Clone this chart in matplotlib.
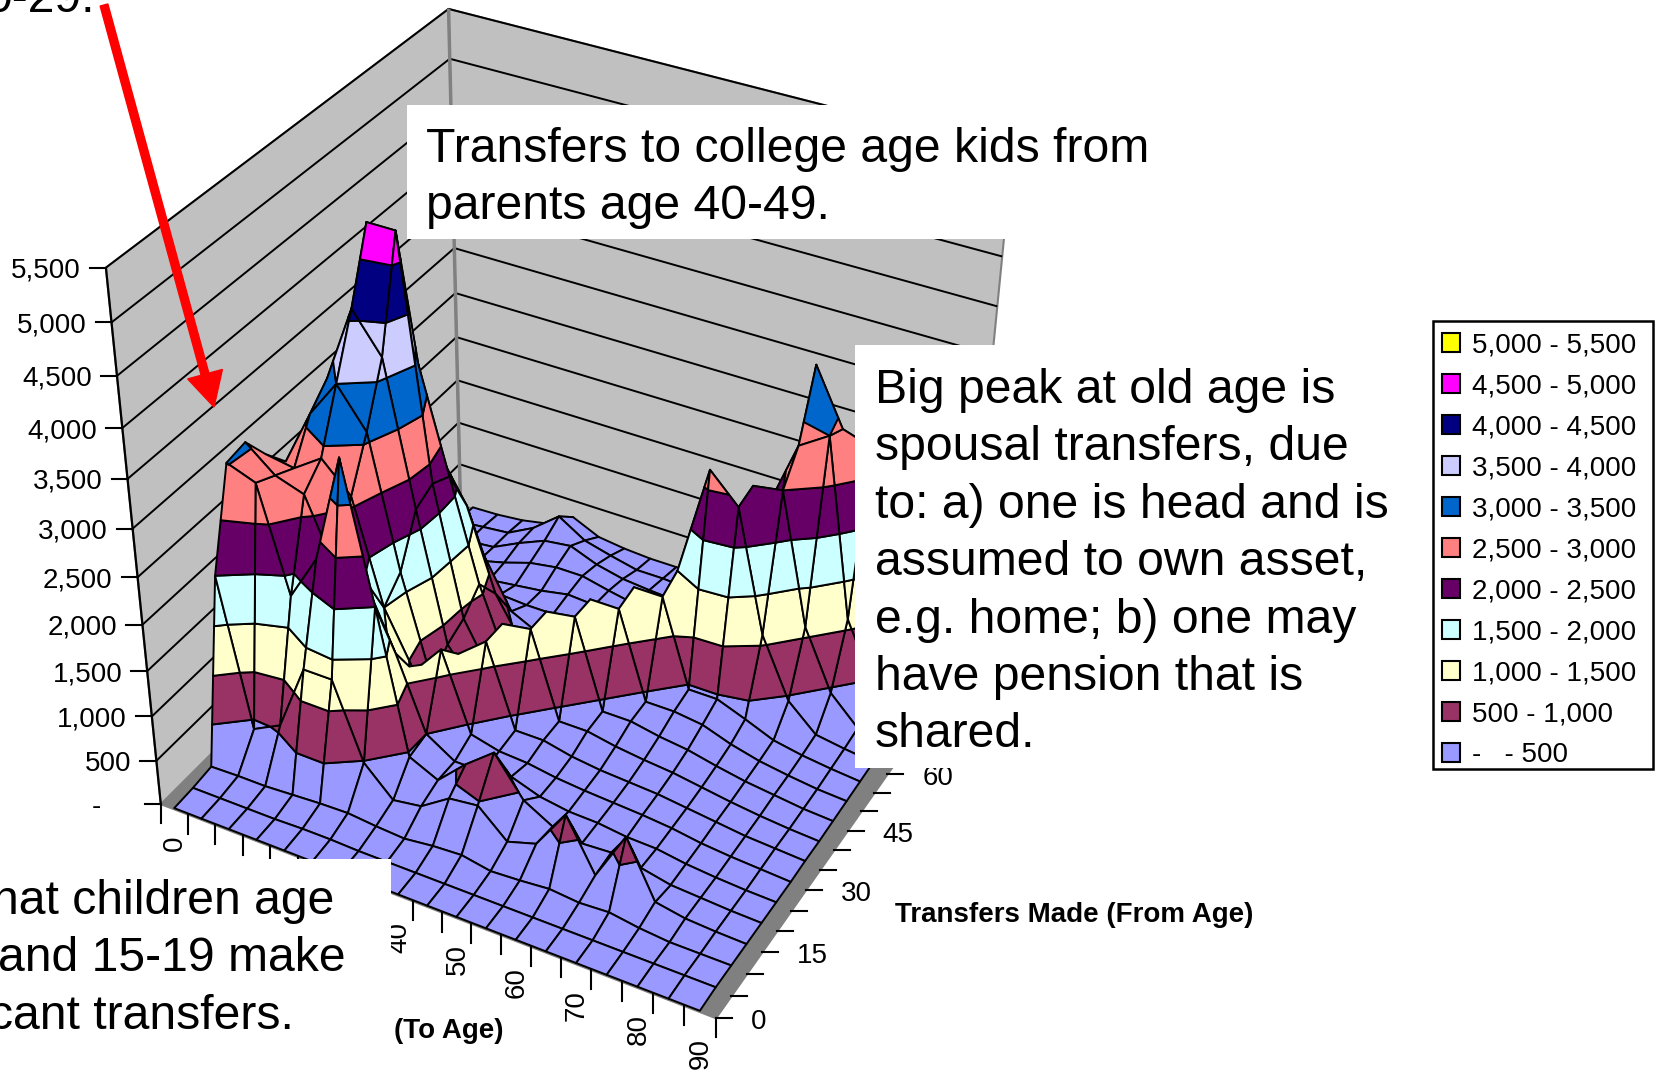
import numpy as np
import matplotlib
matplotlib.use("Agg")
from matplotlib import pyplot as plt
from matplotlib.lines import Line2D
from matplotlib.patches import Patch, Rectangle, FancyArrow
from matplotlib.transforms import Affine2D
from mpl_toolkits.mplot3d.art3d import Poly3DCollection, Line3DCollection

W, H = 1657, 1070
plt.rcParams["font.family"] = ["Liberation Sans", "DejaVu Sans"]

# Data
to_ages = list(range(0, 95, 5))
from_ages = list(range(0, 95, 5))
transfers = np.array([
    # to: 0    5    10    15    20    25    30    35    40    45    50    55    60    65    70    75    80    85    90
    [  15,  15,   15,   15,   15,   15,   15,   15,   15,   15,   15,   15,   15,   15,   15,   15,   15,   15,   15],  # from 0
    [  30,  30,   30,   30,   40,   40,   30,   30,   30,   30,   30,   30,   30,   30,   30,   30,   30,   30,   30],  # from 5
    [  60,  70,   70,   90,  110,  120,   90,   70,  110,  130,   70,   90,  120,   90,  110,   60,   30,   30,   30],  # from 10
    [2000, 400,  560, 1300, 1300,  480,  170,  220,  430,  470,  180,  280,  730,  170,  730,  120,   60,   40,   30],  # from 15
    [3010,2900, 1800, 2300, 3450, 2000,  450,  300,  600,  850,  430,  250,  180,  200,  150,   80,   60,   40,   30],  # from 20
    [3050,2800, 2700, 2000, 2000, 1300,  500,  300,  300,  360,  250,  200,  190,  150,  140,   90,   60,   40,   30],  # from 25
    [2750,2700, 2900, 2600, 1500,  900, 1250,  400,  320,  300,  250,  220,  200,  180,  150,  100,   70,   50,   30],  # from 30
    [2500,3100, 3500, 3100, 1700,  600, 1000, 1250,  350,  350,  280,  240,  220,  200,  160,  120,   80,   60,   40],  # from 35
    [1900,3300, 4100, 3700, 2200,  800,  400, 1250, 1300,  360,  360,  300,  260,  230,  180,  130,   90,   60,   40],  # from 40
    [1200,3000, 4800, 4800, 2300,  900,  350,  300, 1300, 1350,  380,  380,  320,  280,  210,  150,  110,   70,   50],  # from 45
    [ 600,1800, 3300, 3300, 2200, 1100,  300,  250,  280, 1350, 1350,  400,  400,  360,  250,  170,  120,   80,   60],  # from 50
    [ 250, 800, 1700, 2200, 1700,  800,  300,  250,  200,  250, 1400, 1400,  450,  450,  330,  200,  140,  100,   70],  # from 55
    [ 120, 300,  700,  850,  950,  400,  250,  220,  260,  240,  300, 1500, 2700, 2400, 1100,  450,  170,  120,   80],  # from 60
    [  90, 150,  250,  300,  300,  280,  280,  250,  300,  280,  260,  320, 1700, 2450, 2500, 1100,  450,  150,  100],  # from 65
    [  60, 100,  130,  180,  220,  260,  320,  300,  300,  260,  260,  280,  350, 2000, 2800, 3000, 1100,  450,  120],  # from 70
    [  40,  80,  120,  200,  300,  350,  350,  280,  220,  200,  180,  180,  200,  500, 3480, 2900, 2800, 1000,  400],  # from 75
    [  40,  70,  100,  250,  380,  420,  300,  230,  200,  180,  160,  150,  160,  250,  500, 2300, 2900, 2700,  500],  # from 80
    [  30,  60,   90,  250,  490,  300,  220,  150,  150,  130,  120,  120,  140,  180,  250,  500, 2000, 2600, 2000],  # from 85
    [  20,  30,   60,  120,  300,  160,  120,  100,  100,   90,   90,   90,  110,  130,  170,  250,  500, 1800, 2400],  # from 90
], dtype=float)

band_edges = [0, 500, 1000, 1500, 2000, 2500, 3000, 3500, 4000, 4500, 5000, 5500]
band_colors = ["#9999FF", "#993366", "#FFFFCC", "#CCFFFF", "#660066", "#FF8080",
               "#0066CC", "#CCCCFF", "#000080", "#FF00FF", "#FFFF00"]
band_labels = ["-   - 500", "500 - 1,000", "1,000 - 1,500", "1,500 - 2,000", "2,000 - 2,500",
               "2,500 - 3,000", "3,000 - 3,500", "3,500 - 4,000", "4,000 - 4,500",
               "4,500 - 5,000", "5,000 - 5,500"]
value_ticks = [0, 500, 1000, 1500, 2000, 2500, 3000, 3500, 4000, 4500, 5000, 5500]
value_labels = ["-", "500", "1,000", "1,500", "2,000", "2,500", "3,000", "3,500", "4,000",
                "4,500", "5,000", "5,500"]
to_labels = [0, 40, 50, 60, 70, 80, 90]
from_labels = [0, 15, 30, 45, 60]

# box of the chart, the to axis runs half a category past the first and last age
x0, x1 = -2.5, 92.5
y0, y1 = 0, 90
z0, z1 = 0, 5500

# view of the box: where its corners sit in the picture (pixels)
view_world = [(x0, y0, z0), (x1, y0, z0), (x0, y1, z0), (x0, y0, z1), (x0, y1, z1), (x1, y1, z1),
              (x1, 60, z0), (x1, 30, z0), (52.5, y0, z0)]
view_px = [(160.6, 804.2), (716.5, 1017.7), (460.8, 505), (105.7, 268.4), (449.1, 8.5), (1012, 153),
           (885.6, 774.6), (807.8, 890.7), (470, 923)]

rows, rhs = [], []
for (a, b, c), (u, v) in zip(view_world, view_px):
    rows.append([a, b, c, 1, 0, 0, 0, 0, -u * a, -u * b, -u * c])
    rows.append([0, 0, 0, 0, a, b, c, 1, -v * a, -v * b, -v * c])
    rhs += [u, v]
p = np.linalg.lstsq(np.array(rows), np.array(rhs), rcond=None)[0]
cam = np.array([p[:4], p[4:8], [p[8], p[9], p[10], 1.0]])
proj_m = np.array([cam[0], cam[1], [0, 0, 0, -1.0], cam[2]])


def to_px(a, b, c):
    u, v, w = cam @ np.array([a, b, c, 1.0])
    return u / w, v / w


def clip_poly(poly, level, keep_above):
    # Sutherland-Hodgman on z, the corners stay on the edges of the cell
    out = []
    for i in range(len(poly)):
        a, b = poly[i], poly[(i + 1) % len(poly)]
        a_in = a[2] >= level if keep_above else a[2] <= level
        b_in = b[2] >= level if keep_above else b[2] <= level
        if a_in:
            out.append(a)
        if a_in != b_in:
            t = (level - a[2]) / (b[2] - a[2])
            out.append((a[0] + t * (b[0] - a[0]), a[1] + t * (b[1] - a[1]), level))
    return out


polys, colors = [], []
for j in range(len(from_ages) - 1):
    for i in range(len(to_ages) - 1):
        cell = [(to_ages[i], from_ages[j], transfers[j, i]),
                (to_ages[i + 1], from_ages[j], transfers[j, i + 1]),
                (to_ages[i + 1], from_ages[j + 1], transfers[j + 1, i + 1]),
                (to_ages[i], from_ages[j + 1], transfers[j + 1, i])]
        for k, color in enumerate(band_colors):
            piece = clip_poly(cell, band_edges[k], True)
            if len(piece) >= 3:
                piece = clip_poly(piece, band_edges[k + 1], False)
            if len(piece) >= 3:
                polys.append(piece)
                colors.append(color)

fig = plt.figure(figsize=(W / 100, H / 100), dpi=100, facecolor="white")
side = W / H
ax = fig.add_axes([0, (1 - side) / 2, 1, side], projection="3d")
ax.set_axis_off()
ax.patch.set_visible(False)
ax.computed_zorder = False
ax.get_proj = lambda: proj_m
ax.viewLim.intervalx = (0, W)
ax.viewLim.intervaly = (H + (W - H) / 2, -(W - H) / 2)

left_wall = [(x0, y0, z0), (x0, y1, z0), (x0, y1, z1), (x0, y0, z1)]
back_wall = [(x0, y1, z0), (x1, y1, z0), (x1, y1, z1), (x0, y1, z1)]
floor = [(x0, y0, z0), (x1, y0, z0), (x1, y1, z0), (x0, y1, z0)]
ax.add_collection3d(Poly3DCollection([left_wall, back_wall], facecolors="#C0C0C0", edgecolors="#808080",
                                     linewidths=1.5, zorder=1))
grid_segs = []
for z in value_ticks[1:]:
    grid_segs.append([(x0, y0, z), (x0, y1, z)])
    grid_segs.append([(x0, y1, z), (x1, y1, z)])
ax.add_collection3d(Line3DCollection(grid_segs, colors="black", linewidths=1.4, zorder=2))
ax.add_collection3d(Line3DCollection([[(x0, y1, z0), (x0, y1, z1)]], colors="#808080", linewidths=2.5, zorder=2))
ax.add_collection3d(Line3DCollection([[(x0, y0, z0), (x0, y0, z1)]], colors="black", linewidths=1.6, zorder=2))
ax.add_collection3d(Poly3DCollection([floor], facecolors="#808080", edgecolors="#808080", zorder=3))
ax.add_collection3d(Poly3DCollection(polys, facecolors=colors, edgecolors="black", linewidths=1.4,
                                     zsort="average", zorder=4))

px = Affine2D().scale(1, -1).translate(0, H)


def tick(a, b):
    fig.add_artist(Line2D([a[0], b[0]], [a[1], b[1]], color="black", lw=1.5, transform=px))


for z, lab in zip(value_ticks, value_labels):
    u, v = to_px(x0, y0, z)
    tick((u, v), (u - 16, v))
    off = 60 if lab == "-" else 25
    fig.text(u - off, v + 10, lab, fontsize=20, ha="right", va="baseline", transform=px)
for a in np.arange(x0, x1 + 1, 5):
    u, v = to_px(a, y0, z0)
    tick((u, v), (u, v + 19))
for a in to_labels:
    u, v = to_px(a, y0, z0)
    fig.text(u + 1, v + 26, str(a), fontsize=20, rotation=90, ha="center", va="top", transform=px)
for b in np.arange(y0, y1 + 1, 5):
    u, v = to_px(x1, b, z0)
    tick((u, v), (u + 16, v))
for b in from_labels:
    u, v = to_px(x1, b, z0)
    fig.text(u + 35, v + 11, str(b), fontsize=20, ha="left", va="baseline", transform=px)
fig.text(895, 922, "Transfers Made (From Age)", fontsize=20, fontweight="bold", ha="left", va="baseline", transform=px)
fig.text(394, 1038, "(To Age)", fontsize=20, fontweight="bold", ha="left", va="baseline", transform=px)

# text boxes laid over the chart
fig.add_artist(Rectangle((407, 105), 763, 134, facecolor="white", edgecolor="none", transform=px, zorder=5))
fig.add_artist(Rectangle((855, 345), 555, 423, facecolor="white", edgecolor="none", transform=px, zorder=5))
fig.add_artist(Rectangle((0, 859), 391, 211, facecolor="white", edgecolor="none", transform=px, zorder=5))

note_top = ["Transfers to college age kids from", "parents age 40-49."]
note_right = ["Big peak at old age is", "spousal transfers, due", "to: a) one is head and is",
              "assumed to own asset,", "e.g. home; b) one may", "have pension that is", "shared."]
note_low = ["hat children age", "and 15-19 make", "cant transfers."]
note_low_x = [-8, -2, -11]
for i, s in enumerate(note_top):
    fig.text(426, 162 + 57.4 * i, s, fontsize=34.7, va="baseline", transform=px, zorder=6)
for i, s in enumerate(note_right):
    fig.text(875, 403 + 57.4 * i, s, fontsize=34.7, va="baseline", transform=px, zorder=6)
for i, s in enumerate(note_low):
    fig.text(note_low_x[i], 914 + 57.4 * i, s, fontsize=34.7, va="baseline", transform=px, zorder=6)
fig.text(-15, 12, "0-29.", fontsize=34.7, va="baseline", transform=px, zorder=6)

fig.add_artist(FancyArrow(104, 5, 110, 402, width=8, head_width=36, head_length=34,
                          length_includes_head=True, color="red", transform=px, zorder=6))

# legend frame is drawn by hand so it keeps the width of the original box
fig.add_artist(Rectangle((1433, 321), 220, 448, facecolor="white", edgecolor="black", lw=1.8, transform=px, zorder=6))
handles = [Patch(facecolor=c, edgecolor="black", lw=1.5) for c in band_colors[::-1]]
leg = fig.legend(handles, band_labels[::-1], loc="upper left", bbox_to_anchor=(1433 / W, 1 - 323 / H),
                 fontsize=20, frameon=False, handlelength=0.65, handleheight=0.65, handletextpad=0.42,
                 labelspacing=0.54, borderpad=0.33, borderaxespad=0)
leg.set_zorder(7)

fig.savefig("out.png", dpi=100)
